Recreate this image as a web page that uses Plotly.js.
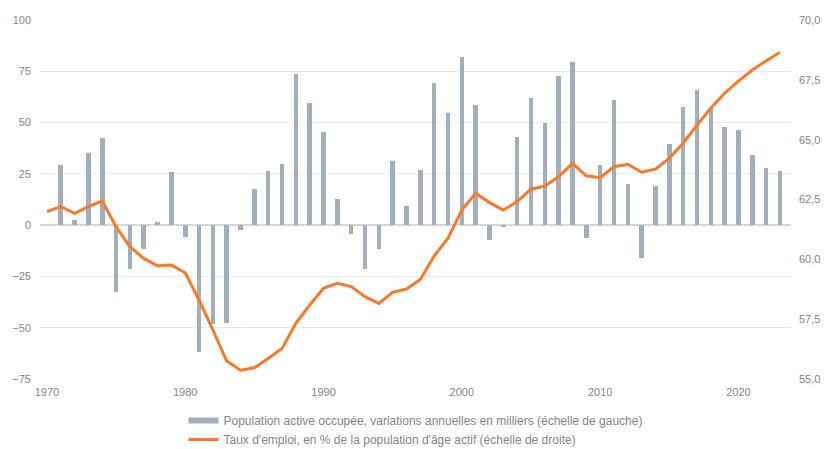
<!DOCTYPE html>
<html>
<head>
<meta charset="utf-8">
<script src="https://cdn.plot.ly/plotly-3.0.1.min.js"></script>
<style>html,body{margin:0;padding:0;background:#fff;}#chart{width:828px;height:449px;}</style>
</head>
<body>
<div id="chart"></div>
<script>
var years = [];
for (var y = 1970; y <= 2023; y++) years.push(y);

var barYears = years.slice(1);
var popChange = [29.3, 2.4, 35, 42.6, -32.5, -21.6, -11.4, 1.6, 26, -6,
  -61.8, -48.4, -47.9, -2.4, 17.6, 26.3, 30, 73.8, 59.3, 45.3,
  12.7, -4.5, -21.6, -11.4, 31.4, 9.3, 26.7, 69.2, 54.6, 82.2,
  58.5, -7, -0.8, 43, 61.9, 49.9, 72.8, 79.5, -6.5, 29.3,
  61.1, 20.1, -15.8, 19.2, 39.8, 57.5, 66, 57.2, 47.8, 46.3,
  34, 27.8, 26.3];

var empRate = [61.99, 62.2, 61.92, 62.2, 62.44, 61.36, 60.53, 60.04, 59.73, 59.76,
  59.44, 58.3, 57.05, 55.75, 55.37, 55.47, 55.86, 56.28, 57.33, 58.09,
  58.79, 59.0, 58.86, 58.44, 58.16, 58.62, 58.76, 59.16, 60.14, 60.88,
  62.06, 62.76, 62.37, 62.06, 62.41, 62.93, 63.06, 63.45, 64.01, 63.49,
  63.41, 63.87, 63.97, 63.64, 63.77, 64.22, 64.85, 65.61, 66.31, 66.94,
  67.45, 67.91, 68.29, 68.65];

var barName = 'Population active occupée, variations annuelles en milliers (échelle de gauche)';
var lineName = "Taux d'emploi, en % de la population d'âge actif (échelle de droite)";

var barColor = '#a3aebb';
var lineColor = '#f7792a';
var tickColor = '#858585';

var traces = [
  {type: 'bar', x: barYears, y: popChange, marker: {color: barColor}, width: 0.33, showlegend: false, hoverinfo: 'x+y'},
  {type: 'scatter', mode: 'lines', x: [null], y: [null], name: barName, line: {color: barColor, width: 6}, showlegend: true},
  {type: 'scatter', mode: 'lines', x: years, y: empRate, yaxis: 'y2', name: lineName, line: {color: lineColor, width: 3}}
];

var layout = {
  width: 828, height: 449,
  margin: {l: 40, r: 37, t: 20, b: 70, autoexpand: false},
  paper_bgcolor: '#fff', plot_bgcolor: '#fff',
  separators: ', ',
  font: {family: 'Liberation Sans, Arial, sans-serif', size: 11, color: tickColor},
  showlegend: true,
  legend: {orientation: 'v', x: 0.5, xanchor: 'center', y: -0.075, yanchor: 'top',
    font: {size: 12, color: tickColor}, tracegroupgap: 0, itemwidth: 30},
  xaxis: {range: [1969.5, 2023.8], tickvals: [1970, 1980, 1990, 2000, 2010, 2020], showgrid: false,
    zeroline: false, showline: false, ticks: '', ticklabelstandoff: 5, tickfont: {size: 11, color: tickColor}},
  yaxis: {range: [-75, 100], dtick: 25, tick0: 0, showgrid: true, gridcolor: '#ebebeb', gridwidth: 1,
    zeroline: true, zerolinecolor: '#d6d6d6', zerolinewidth: 2, showline: false, ticks: '',
    ticklabelstandoff: 8, tickfont: {size: 11, color: tickColor}},
  yaxis2: {range: [55, 70], dtick: 2.5, tick0: 55, overlaying: 'y', side: 'right', showgrid: false,
    zeroline: false, showline: false, ticks: '', tickformat: '.1f', ticklabelstandoff: 7,
    tickfont: {size: 11, color: tickColor}},
  bargap: 0
};

Plotly.newPlot('chart', traces, layout, {displayModeBar: false, staticPlot: true});
</script>
</body>
</html>
